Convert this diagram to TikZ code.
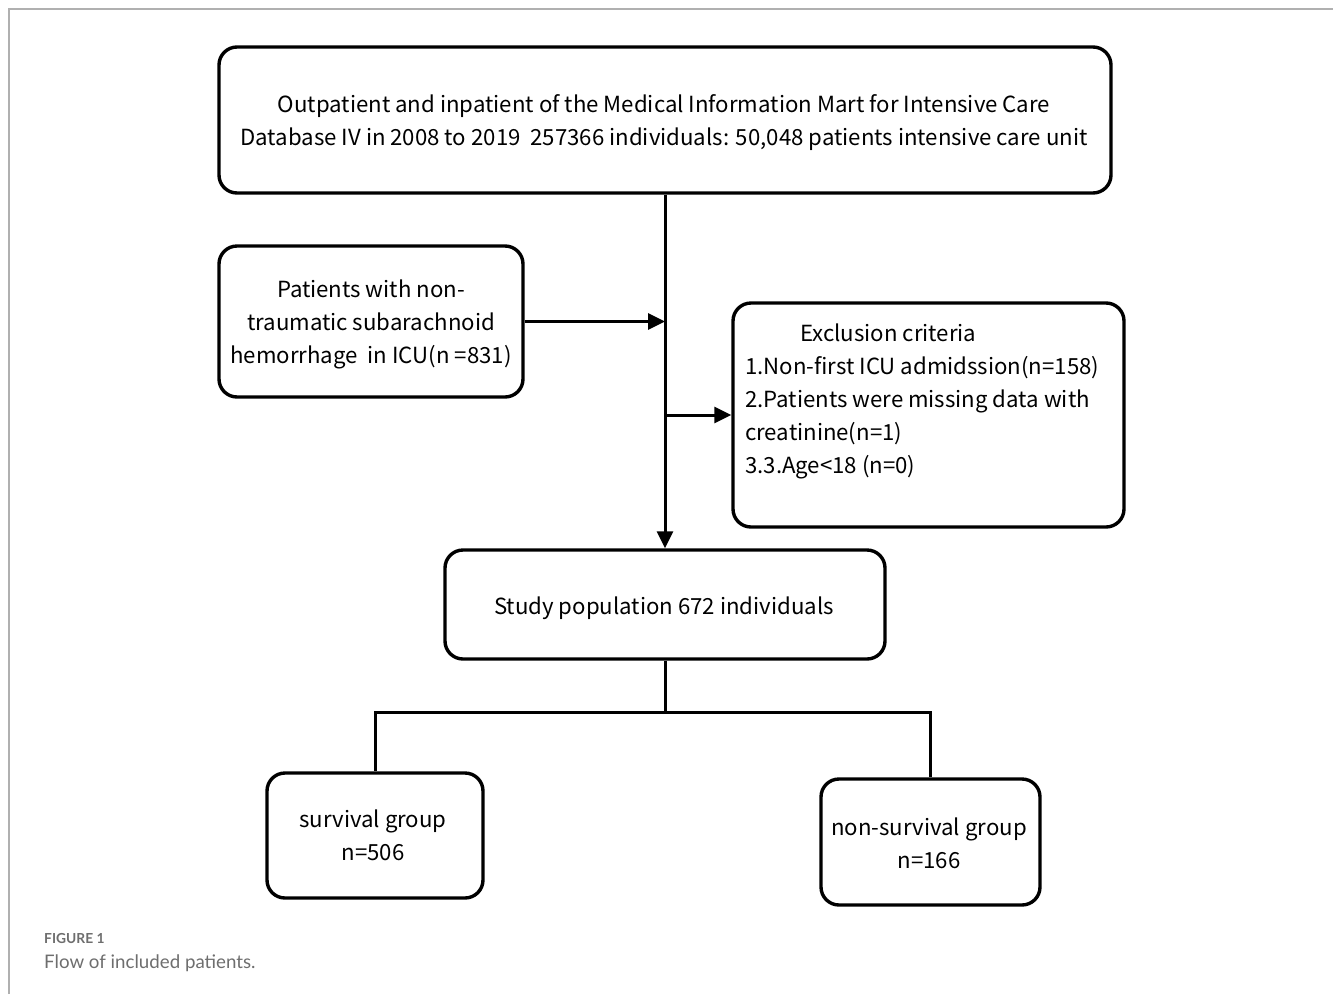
\documentclass[tikz,border=0pt]{standalone}
\usepackage{fontspec}
\setmainfont{Noto Sans CJK SC}
\newfontfamily\capfont{Lato}
\usetikzlibrary{arrows.meta}
\definecolor{framegray}{HTML}{B0B0B0}
\definecolor{capgray}{HTML}{6E6E6E}
\tikzset{
  box/.style={draw=black, line width=3.4pt, rounded corners=18pt, inner sep=0pt},
  txt/.style={align=center, inner sep=0pt, font=\fontsize{22.2}{33}\selectfont},
  conn/.style={line width=3pt, draw=black},
  arr/.style={conn, -{Triangle[length=17pt,width=16pt]}},
}
\begin{document}
\begin{tikzpicture}[x=1pt,y=-1pt]
\useasboundingbox (0,0) rectangle (1333,994);
\fill[white] (0,0) rectangle (1333,994);
\draw[framegray, line width=1.5pt] (9,994) -- (9,9) -- (1333,9);

\node[box, minimum width=892pt, minimum height=146pt] (top) at (665,120) {};
\node[txt] (toptext) at (664,123)
  {Outpatient and inpatient of the Medical Information Mart for Intensive Care\\
   Database IV in 2008 to 2019\ \ 257366 individuals: 50,048 patients intensive care unit};

\node[box, minimum width=304pt, minimum height=151pt] (sah) at (371,321.5) {};
\node[txt] (sahtext) at (371,324.5)
  {Patients with non-\\traumatic subarachnoid\\hemorrhage\ \ in ICU(n =831)};

\node[box, minimum width=391pt, minimum height=224pt] (excl) at (928.5,415) {};
\node[anchor=north west, inner sep=0pt, align=left, font=\fontsize{22.2}{33}\selectfont] (excltext) at (745,324)
  {\hspace*{55pt}Exclusion criteria\\
   1.Non-first ICU admidssion(n=158)\\
   2.Patients were missing data with\\
   creatinine(n=1)\\
   3.3.Age<18 (n=0)};

\node[box, minimum width=440pt, minimum height=109pt] (study) at (665,604.5) {};
\node[txt] (studytext) at (664,608) {Study population 672 individuals};

\node[box, minimum width=216pt, minimum height=125pt] (surv) at (375,835.5) {};
\node[txt] (survtext) at (373,835.5) {survival group\\n=506};

\node[box, minimum width=219pt, minimum height=126pt] (nonsurv) at (930.5,842) {};
\node[txt] (nonsurvtext) at (929,843) {non-survival group\\n=166};

\draw[arr] (top.south) -- (study.north);
\draw[arr] (sah.east) -- (sah.east -| top.south);
\draw[arr] (excl.west -| top.south) -- (excl.west);

\coordinate (split) at (665,712);
\draw[conn] (study.south) -- (split);
\draw[conn] (split) -| (surv.north);
\draw[conn] (split) -| (nonsurv.north);

\node[anchor=base west, inner sep=0pt, text=capgray, font=\capfont\bfseries\fontsize{13.8}{15}\selectfont] (figlabel) at (44,943) {FIGURE 1};
\node[anchor=base west, inner sep=0pt, text=capgray, font=\capfont\fontsize{18.7}{20}\selectfont] (figcap) at (44,968) {Flow of included patients.};
\end{tikzpicture}
\end{document}
